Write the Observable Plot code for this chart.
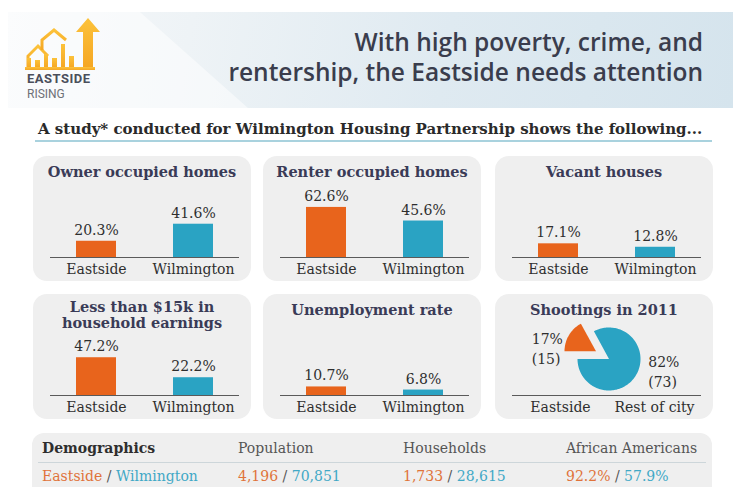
<!DOCTYPE html>
<html><head><meta charset="utf-8">
<script src="https://cdn.jsdelivr.net/npm/d3@7"></script>
<script src="https://cdn.jsdelivr.net/npm/@observablehq/plot@0.6"></script>
<style>
  body{margin:0;width:733px;height:487px;overflow:hidden;background:#fff;position:relative;font-family:"DejaVu Serif",serif;}
  .abs{position:absolute;}
  #band{left:8px;top:12px;width:725px;height:96px;background:linear-gradient(100deg,#f6f8fa 0%,#eef3f6 25%,#dfeaf1 60%,#d5e4ed 100%);}
  #bandlight{left:8px;top:12px;width:240px;height:96px;background:rgba(255,255,255,0.5);clip-path:polygon(0 0,55% 0,100% 100%,0 100%);}
  .tline{right:30px;text-align:right;font-family:"Open Sans",sans-serif;font-weight:600;font-size:24.5px;line-height:26px;color:#3a3d4d;white-space:nowrap;}
  #subtitle{left:38px;top:120px;font-weight:bold;font-size:15px;color:#2a2a2a;white-space:nowrap;}
  #underline{left:35px;top:140px;width:677px;height:2px;background:#a9d2de;}
  .panel{position:absolute;width:218px;height:125px;background:#efefef;border-radius:14px;}
  .panel svg{position:absolute;left:0;top:0;overflow:visible;}
  .ptitle{position:absolute;left:0;width:218px;top:8px;text-align:center;font-weight:bold;font-size:14.5px;line-height:16px;color:#3a3b57;white-space:nowrap;z-index:2;}
  #demo{left:32px;top:433px;width:680px;height:70px;background:#efefef;border-radius:12px;}
  .dcell{position:absolute;font-size:14px;white-space:nowrap;}
</style></head>
<body>
<div id="band" class="abs"></div>
<div id="bandlight" class="abs"></div>
<svg class="abs" style="left:22px;top:14px" width="80" height="88" viewBox="0 0 80 88">
  <defs><linearGradient id="lg" x1="0" y1="1" x2="0" y2="0"><stop offset="0" stop-color="#f5a623"/><stop offset="1" stop-color="#fcc23a"/></linearGradient></defs>
  <g fill="none" stroke="url(#lg)" stroke-width="3" stroke-linejoin="miter">
    <path d="M6 54 L6 42 L16 32 L26 42"/>
    <path d="M20 36 L20 26 L32 16 L44 26"/>
  </g>
  <path d="M66 4 L78 18 L71 18 L71 54 L61 54 L61 18 L54 18 Z" fill="url(#lg)"/>
  <g fill="url(#lg)">
    <rect x="5" y="44" width="4" height="10"/>
    <rect x="13" y="46" width="5" height="8"/>
    <rect x="22" y="40" width="4" height="14"/>
    <rect x="30" y="44" width="5" height="10"/>
    <rect x="39" y="30" width="4" height="24"/>
    <rect x="47" y="42" width="5" height="12"/>
    <rect x="3" y="53" width="70" height="3"/>
  </g>
  <text x="5" y="69" font-family="Roboto,sans-serif" font-weight="bold" font-size="13" fill="#4b4f5b" textLength="63">EASTSIDE</text>
  <text x="5" y="84" font-family="Roboto,sans-serif" font-size="12" fill="#6d7077">RISING</text>
</svg>
<div class="abs tline" style="top:29px">With high poverty, crime, and</div>
<div class="abs tline" style="top:59px">rentership, the Eastside needs attention</div>
<div id="subtitle" class="abs">A study* conducted for Wilmington Housing Partnership shows the following...</div>
<div id="underline" class="abs"></div>
<div id="panels"></div>
<div id="demo" class="abs"></div>
<script>
const categories = ["Eastside", "Wilmington"];
const ownerOccupied = [20.3, 41.6];
const renterOccupied = [62.6, 45.6];
const vacantHouses = [17.1, 12.8];
const lowEarnings = [47.2, 22.2];
const unemployment = [10.7, 6.8];
const shootingGroups = ["Eastside", "Rest of city"];
const shootingCounts = [15, 73];
const shootingPercents = [17, 82];
const demoHeaders = ["Demographics", "Population", "Households", "African Americans"];
const demoEastside = ["4,196", "1,733", "92.2%"];
const demoWilmington = ["70,851", "28,615", "57.9%"];

const ORANGE = "#e8641c", TEAL = "#2aa3c3";
const W = 218, H = 125;
const baseStyle = {background:"transparent", fontFamily:"DejaVu Serif", fontSize:"14px", color:"#333", overflow:"visible"};

function frame(groups, marks) {
  return Plot.plot({
    width: W, height: H, marginTop: 21, marginBottom: 24, marginLeft: 17, marginRight: 12,
    style: baseStyle,
    x: {domain: groups, paddingInner: 0.59, paddingOuter: 0.26, axis: null, label: null},
    y: {domain: [0, 100], axis: null},
    color: {domain: groups, range: [ORANGE, TEAL]},
    marks: [
      ...marks,
      Plot.ruleY([0], {stroke: "#5a5a5a", strokeWidth: 1}),
      Plot.axisX({tickSize: 0, tickPadding: 7, fontSize: 14, fill: "#2e2e2e", label: null})
    ]
  });
}

function barPanel(values) {
  const data = categories.map((c, i) => ({cat: c, v: values[i]}));
  return frame(categories, [
    Plot.barY(data, {x: "cat", y: "v", fill: "cat"}),
    Plot.text(data, {x: "cat", y: "v", text: d => d.v.toFixed(1) + "%", dy: -11, fontSize: 14, fill: "#2e2e2e"})
  ]);
}

function piePanel() {
  const total = d3.sum(shootingCounts);
  let start = 270;
  const slices = shootingCounts.map((c, i) => {
    const a0 = start, a1 = start + c / total * 360;
    start = a1;
    return {group: shootingGroups[i], a0, a1, count: c, pct: shootingPercents[i]};
  });
  const explode = [0.48, 0];
  const rad = a => a * Math.PI / 180;
  const shapes = slices.map((s, i) => {
    const mid = rad((s.a0 + s.a1) / 2);
    const ox = Math.sin(mid) * explode[i], oy = Math.cos(mid) * explode[i];
    const pts = [{x: ox, y: oy}];
    const n = Math.ceil((s.a1 - s.a0) / 2);
    for (let k = 0; k <= n; k++) {
      const a = rad(s.a0 + (s.a1 - s.a0) * k / n);
      pts.push({x: ox + Math.sin(a), y: oy + Math.cos(a)});
    }
    return {pts, cx: ox + Math.sin(mid) * 0.6, cy: oy + Math.cos(mid) * 0.6, s};
  });
  const labelOffsets = [[-48, 6], [23, 2]];
  return Plot.plot({
    width: W, height: H, marginLeft: 82, marginRight: 73, marginTop: 33, marginBottom: 29,
    style: baseStyle,
    x: {domain: [-1, 1], axis: null},
    y: {domain: [-1, 1], axis: null},
    marks: [
      ...shapes.map((sh, i) => Plot.line(sh.pts, {x: "x", y: "y", fill: i === 0 ? ORANGE : TEAL, stroke: "none"})),
      ...shapes.map((sh, i) => Plot.text([sh], {x: "cx", y: "cy", text: d => d.s.pct + "%\n(" + d.s.count + ")", textAnchor: "start", lineHeight: 1.4, dx: labelOffsets[i][0], dy: labelOffsets[i][1], fontSize: 14, fill: "#2e2e2e"}))
    ]
  });
}

const panelDefs = [
  {title: "Owner occupied homes", left: 33, top: 156, values: ownerOccupied},
  {title: "Renter occupied homes", left: 263, top: 156, values: renterOccupied},
  {title: "Vacant houses", left: 495, top: 156, values: vacantHouses},
  {title: "Less than $15k in<br>household earnings", left: 33, top: 294, values: lowEarnings, tTop: 5},
  {title: "Unemployment rate", left: 263, top: 294, values: unemployment},
  {title: "Shootings in 2011", left: 495, top: 294, pie: true}
];
const host = document.getElementById("panels");
for (const p of panelDefs) {
  const div = document.createElement("div");
  div.className = "panel";
  div.style.left = p.left + "px"; div.style.top = p.top + "px";
  const t = document.createElement("div");
  t.className = "ptitle"; t.innerHTML = p.title;
  if (p.tTop != null) t.style.top = p.tTop + "px";
  div.appendChild(t);
  if (p.pie) {
    div.appendChild(frame(shootingGroups, []));
    div.appendChild(piePanel());
  } else {
    div.appendChild(barPanel(p.values));
  }
  host.appendChild(div);
}

// Demographics strip
const demo = document.getElementById("demo");
const colX = [10, 206, 371, 534];
demoHeaders.forEach((h, i) => {
  const c = document.createElement("div");
  c.className = "dcell";
  c.style.left = colX[i] + "px"; c.style.top = "7px";
  c.style.color = i === 0 ? "#2e2e2e" : "#555";
  c.style.fontWeight = i === 0 ? "bold" : "normal";
  c.textContent = h;
  demo.appendChild(c);
});
const sep = document.createElement("div");
sep.style.cssText = "position:absolute;left:6px;top:29px;width:668px;height:1px;background:#cdd6da;";
demo.appendChild(sep);
const rowVals = [[categories[0], categories[1]], ...demoEastside.map((v, i) => [v, demoWilmington[i]])];
rowVals.forEach((pair, i) => {
  const c = document.createElement("div");
  c.className = "dcell";
  c.style.left = colX[i] + "px"; c.style.top = "35px";
  c.innerHTML = `<span style="color:#e0733a">${pair[0]}</span><span style="color:#555"> / </span><span style="color:#41a8c6">${pair[1]}</span>`;
  demo.appendChild(c);
});
</script>
</body></html>
